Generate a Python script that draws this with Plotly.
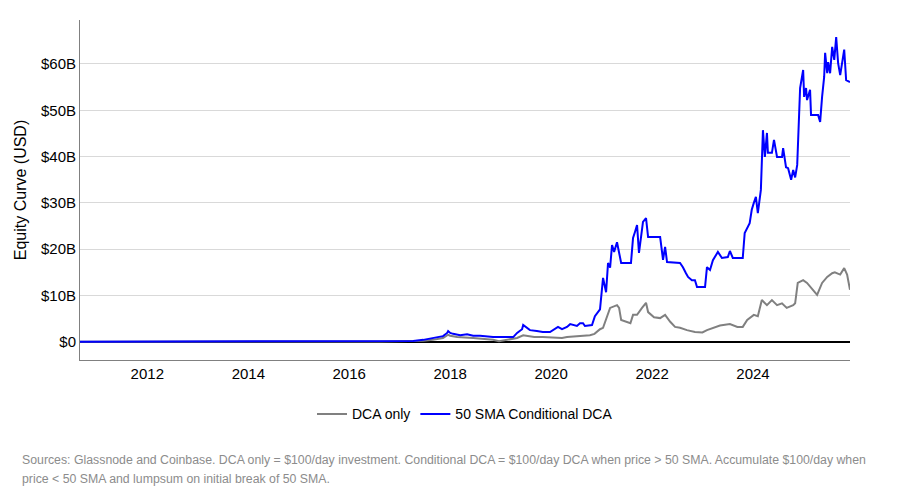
import plotly.graph_objects as go

# Equity curves in billions of USD
cond_dates = ["2010-09-01","2013-01-01","2015-01-01","2016-08-10","2017-04-08","2017-06-20","2017-08-29","2017-11-10","2017-12-10","2017-12-17",
    "2018-01-01","2018-01-22","2018-03-14","2018-05-03","2018-06-16","2018-08-05","2018-11-07","2019-02-17","2019-04-02","2019-04-30",
    "2019-06-05","2019-06-13","2019-07-10","2019-08-01","2019-09-20","2019-11-02","2019-12-24","2020-01-30","2020-02-20","2020-03-20",
    "2020-04-25","2020-05-18","2020-06-09","2020-07-06","2020-07-28","2020-08-19","2020-09-02","2020-10-08","2020-10-23","2020-11-13",
    "2020-12-05","2020-12-20","2021-01-11","2021-02-02","2021-02-16","2021-03-03","2021-03-17","2021-04-01","2021-04-22","2021-05-07",
    "2021-05-22","2021-08-01","2021-08-16","2021-08-30","2021-09-14","2021-09-28","2021-10-20","2021-10-27","2021-11-18","2021-12-03",
    "2022-02-28","2022-03-21","2022-04-05","2022-04-19","2022-07-22","2022-08-12","2022-09-03","2022-09-18","2022-10-16","2022-11-07",
    "2022-11-22","2023-01-19","2023-02-02","2023-02-24","2023-03-17","2023-04-22","2023-05-21","2023-07-03","2023-07-18","2023-08-08",
    "2023-10-19","2023-11-02","2023-12-08","2023-12-23","2024-01-07","2024-01-22","2024-02-05","2024-02-27","2024-03-13","2024-03-27",
    "2024-04-11","2024-04-18","2024-05-17","2024-06-01","2024-06-23","2024-07-29","2024-08-06","2024-08-27","2024-09-11","2024-10-03",
    "2024-10-18","2024-11-01","2024-11-16","2024-11-30","2024-12-07","2024-12-29","2025-01-05","2025-01-19","2025-01-26","2025-02-17",
    "2025-02-24","2025-04-16","2025-05-01","2025-05-15","2025-05-30","2025-06-06","2025-06-21","2025-06-28","2025-07-12","2025-07-27",
    "2025-08-11","2025-08-25","2025-09-08","2025-09-23","2025-10-07","2025-10-22","2025-11-05","2025-11-20","2025-12-03"]
cond_values = [0.0,0.02,0.05,0.1,0.15,0.4,0.8,1.2,1.9,2.3,
    1.9,1.7,1.4,1.6,1.3,1.3,1.0,1.0,1.0,1.9,
    2.7,3.6,3.0,2.5,2.3,2.1,2.1,2.7,3.2,2.7,
    3.2,3.8,3.6,3.4,4.0,4.0,3.4,3.6,3.6,5.5,
    6.4,7.0,13.8,10.7,17.0,16.0,20.9,19.4,21.5,19.4,
    17.0,17.0,22.4,23.7,25.2,19.2,23.5,25.9,26.7,22.6,
    22.6,17.7,20.5,17.2,17.0,16.1,14.8,14.0,13.3,13.3,
    11.8,11.8,16.1,15.5,17.6,19.4,18.1,18.3,19.6,18.1,
    18.1,23.5,25.6,28.5,30.0,31.3,27.8,32.8,45.7,39.9,
    45.1,40.8,40.8,43.6,39.9,39.9,41.8,37.7,37.5,35.0,
    37.1,35.5,38.2,50.1,54.8,58.7,52.9,54.8,52.2,54.4,
    49.0,49.0,47.5,52.9,57.2,62.4,58.0,60.4,58.0,63.7,
    60.9,65.8,60.2,57.6,60.2,63.1,56.5,56.3,56.1]

dca_dates = ["2010-09-01","2013-01-01","2015-01-01","2016-08-10","2017-06-20","2017-08-29","2017-11-10","2017-12-17","2018-01-01","2018-02-20",
    "2018-06-16","2018-11-07","2018-12-20","2019-04-30","2019-06-13","2019-09-01","2019-11-02","2020-03-20","2020-04-25","2020-07-28",
    "2020-10-08","2020-11-10","2020-12-20","2021-01-11","2021-02-02","2021-03-03","2021-04-22","2021-05-07","2021-05-22","2021-07-28",
    "2021-08-16","2021-09-14","2021-10-20","2021-11-18","2021-12-03","2022-01-15","2022-02-28","2022-04-05","2022-05-12","2022-06-16",
    "2022-07-22","2022-09-10","2022-11-07","2022-12-31","2023-02-02","2023-03-17","2023-05-07","2023-07-18","2023-09-10","2023-10-19",
    "2023-11-20","2024-01-07","2024-02-05","2024-03-05","2024-04-11","2024-05-17","2024-06-23","2024-07-29","2024-09-01","2024-10-18",
    "2024-11-01","2024-11-20","2024-12-29","2025-01-26","2025-03-10","2025-04-09","2025-05-15","2025-06-21","2025-07-27","2025-08-15",
    "2025-09-23","2025-10-22","2025-11-12","2025-12-03"]
dca_values = [0.0,0.01,0.02,0.05,0.2,0.4,0.8,1.5,1.3,1.0,
    0.8,0.4,0.1,0.8,1.4,1.0,1.0,0.8,1.0,1.2,
    1.4,1.7,2.7,3.0,4.7,7.3,7.9,7.3,4.7,4.0,
    5.8,5.8,7.3,8.4,6.4,5.3,5.1,5.8,4.3,3.2,
    3.0,2.5,2.1,2.0,2.5,3.0,3.5,3.8,3.2,3.2,
    4.7,5.8,5.5,9.0,7.9,9.0,7.9,8.3,7.3,7.9,
    8.3,12.7,13.3,12.7,11.2,10.1,12.7,14.0,14.8,15.0,
    14.5,15.9,14.5,11.2]

y_ticks = [0, 10, 20, 30, 40, 50, 60]
y_tick_labels = ["$0", "$10B", "$20B", "$30B", "$40B", "$50B", "$60B"]

note_lines = [
    "Sources: Glassnode and Coinbase. DCA only = $100/day investment. Conditional DCA = $100/day DCA when price &gt; 50 SMA. Accumulate $100/day when",
    "price &lt; 50 SMA and lumpsum on initial break of 50 SMA.",
]

FONT = "Liberation Sans, Arial, sans-serif"

fig = go.Figure()
fig.add_trace(go.Scatter(x=dca_dates, y=dca_values, mode="lines", name="DCA only",
                         line=dict(color="#808080", width=2)))
fig.add_trace(go.Scatter(x=cond_dates, y=cond_values, mode="lines", name="50 SMA Conditional DCA",
                         line=dict(color="#0000ff", width=2)))

note_y = [-0.294, -0.35]
annotations = [dict(
    xref="paper", yref="paper", x=-0.078, y=yy, xanchor="left", yanchor="middle",
    align="left", showarrow=False,
    font=dict(size=12.3, color="#8c8c8c", family=FONT),
    text=t) for t, yy in zip(note_lines, note_y)]

fig.update_layout(
    width=900, height=500,
    margin=dict(l=72, r=58, t=12, b=148),
    paper_bgcolor="white", plot_bgcolor="white",
    font=dict(family=FONT, size=15, color="black"),
    showlegend=True,
    legend=dict(orientation="h", x=0.5, xanchor="center", y=-0.16, yanchor="middle",
                font=dict(size=14), itemwidth=30),
    xaxis=dict(type="date", range=["2010-09-01", "2025-12-03"], tick0="2012-01-01", dtick="M24",
               tickformat="%Y", showgrid=False, showline=True, linecolor="#808080", linewidth=1,
               ticks="", zeroline=False, tickfont=dict(size=15)),
    yaxis=dict(range=[-3.95, 69.5], tickvals=y_ticks, ticktext=y_tick_labels,
               showgrid=True, gridcolor="#d9d9d9", gridwidth=1,
               zeroline=True, zerolinecolor="black", zerolinewidth=2,
               showline=True, linecolor="#808080", linewidth=1, ticks="",
               tickfont=dict(size=15),
               title=dict(text="Equity Curve (USD)", font=dict(size=16), standoff=10)),
    annotations=annotations,
)

fig.write_html("out.html")
